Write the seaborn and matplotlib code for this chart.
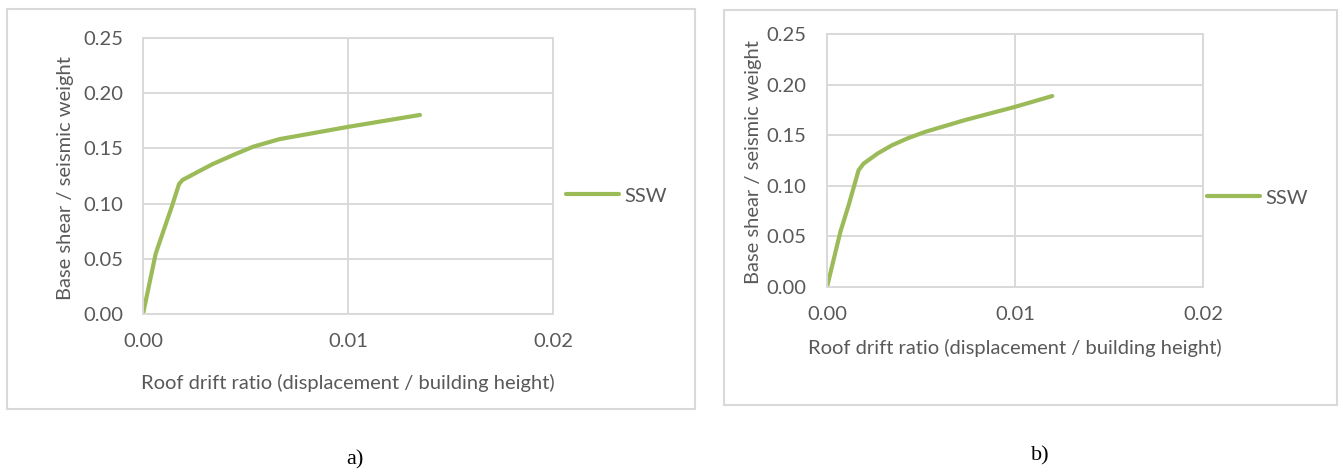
import matplotlib
matplotlib.use("Agg")
import matplotlib.pyplot as plt
from matplotlib.patches import Rectangle
from matplotlib.ticker import FormatStrFormatter
import seaborn as sns
import pandas as pd

# Pushover curves: roof drift ratio vs. normalised base shear
a_drift = [0.0, 0.00062, 0.00095, 0.00140, 0.00176, 0.00193, 0.0027, 0.0034, 0.0044, 0.00535, 0.00666, 0.0085, 0.0100, 0.01351]
a_shear = [0.0, 0.0547, 0.0727, 0.0970, 0.1178, 0.1214, 0.1290, 0.1358, 0.1440, 0.1514, 0.1584, 0.1645, 0.1695, 0.1803]

b_drift = [0.0, 0.00071, 0.00115, 0.00168, 0.00195, 0.0027, 0.00345, 0.0043, 0.00522, 0.00735, 0.0100, 0.01198]
b_shear = [0.0, 0.0544, 0.0808, 0.1154, 0.1220, 0.1320, 0.1400, 0.1470, 0.1533, 0.1650, 0.1780, 0.1887]

series_name = "SSW"
x_ticks = [0.0, 0.01, 0.02]
y_ticks = [0.0, 0.05, 0.10, 0.15, 0.20, 0.25]
x_label = "Roof drift ratio (displacement / building height)"
y_label = "Base shear / seismic weight"
panel_tags = ["a)", "b)"]

sns.set_theme(style="white")
plt.rcParams["font.family"] = ["Lato", "DejaVu Sans"]

W, H = 1343, 472
fig = plt.figure(figsize=(W / 100, H / 100), dpi=100)

GREEN = "#9BBB59"
GRID = "#D9D9D9"
TEXT = "#595959"
FS = 14.5


def px_box(x0, y0, x1, y1):
    """Convert a pixel box (top-left origin) to figure fractions."""
    return [x0 / W, 1 - y1 / H, (x1 - x0) / W, (y1 - y0) / H]


panels = [
    dict(drift=a_drift, shear=a_shear, tag=panel_tags[0],
         frame=(7, 9, 695, 409), axes=(143, 38, 553, 314),
         ylab_x=65, xlab_y=383, ypad=14,
         leg=(566, 196), tag_xy=(355, 460)),
    dict(drift=b_drift, shear=b_shear, tag=panel_tags[1],
         frame=(724, 10, 1337, 405), axes=(827, 34, 1203, 287),
         ylab_x=754, xlab_y=348, ypad=15,
         leg=(1207, 198), tag_xy=(1040, 456)),
]

for p in panels:
    fx0, fy0, fx1, fy1 = p["frame"]
    fig.add_artist(Rectangle((fx0 / W, 1 - fy1 / H), (fx1 - fx0) / W, (fy1 - fy0) / H,
                             transform=fig.transFigure, fill=False,
                             edgecolor=GRID, linewidth=1.5))

    ax = fig.add_axes(px_box(*p["axes"]))
    df = pd.DataFrame({"drift": p["drift"], "shear": p["shear"], "series": series_name})
    sns.lineplot(data=df, x="drift", y="shear", hue="series", palette=[GREEN],
                 sort=False, linewidth=3.0, ax=ax, legend=False,
                 solid_joinstyle="round", solid_capstyle="round")

    ax.set_xlim(0, 0.02)
    ax.set_ylim(0, 0.25)
    ax.set_xticks(x_ticks)
    ax.set_yticks(y_ticks)
    ax.xaxis.set_major_formatter(FormatStrFormatter("%.2f"))
    ax.yaxis.set_major_formatter(FormatStrFormatter("%.2f"))
    ax.grid(True, color=GRID, linewidth=1.4)
    for s in ax.spines.values():
        s.set_color(GRID)
        s.set_linewidth(1.4)
    ax.tick_params(axis="both", length=0, labelsize=FS, colors=TEXT)
    ax.tick_params(axis="x", pad=14)
    ax.tick_params(axis="y", pad=p["ypad"])
    ax.set_xlabel("")
    ax.set_ylabel("")

    # axis titles placed in figure pixels
    ax0, ay0, ax1, ay1 = p["axes"]
    fig.text(((ax0 + ax1) / 2) / W, 1 - p["xlab_y"] / H, x_label,
             ha="center", va="center", fontsize=FS, color=TEXT)
    fig.text(p["ylab_x"] / W, 1 - ((ay0 + ay1) / 2 + 2) / H, y_label,
             ha="center", va="center", rotation=90, fontsize=FS, color=TEXT)

    handles = [plt.Line2D([], [], color=GREEN, linewidth=3.0, solid_capstyle="round")]
    lx, ly = p["leg"]
    fig.legend(handles, [series_name], loc="center left",
               bbox_to_anchor=(lx / W, 1 - ly / H), frameon=False,
               handlelength=2.65, handletextpad=0.25, borderaxespad=0, borderpad=0,
               prop={"size": FS}, labelcolor=TEXT)

    tx, ty = p["tag_xy"]
    fig.text(tx / W, 1 - ty / H, p["tag"],
             ha="center", va="center", fontsize=16, color="black",
             family=["Liberation Serif", "DejaVu Serif"])

fig.savefig("out.png", dpi=100, facecolor="white")
